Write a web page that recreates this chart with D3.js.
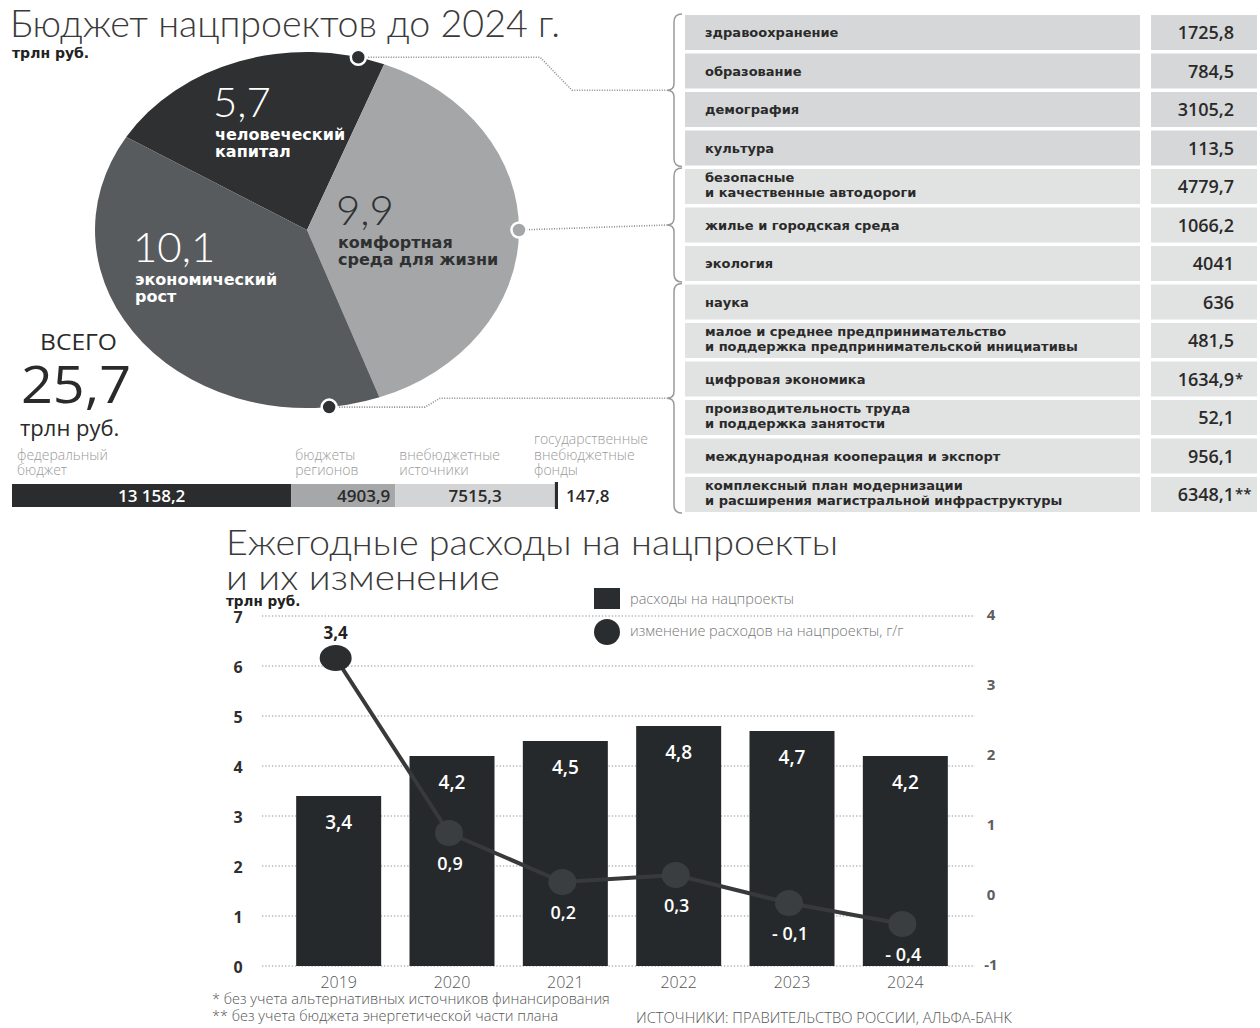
<!DOCTYPE html>
<html>
<head>
<meta charset="utf-8">
<script src="https://cdn.jsdelivr.net/npm/d3@7"></script>
<style>
  body { margin: 0; background: #fff; }
  text { font-family: "Open Sans", "DejaVu Sans", sans-serif; }
  .light { font-family: Lato, "Open Sans", sans-serif; font-weight: 300; }
  .heavy { font-family: "DejaVu Sans", sans-serif; font-weight: bold; }
</style>
</head>
<body>
<div id="container"></div>
<script>
const width = 1260,
  height = 1028;

// pie: groups of national projects, trln rub
const pieNames = [["человеческий", "капитал"], ["комфортная", "среда для жизни"], ["экономический", "рост"]];
const pieValues = [5.7, 9.9, 10.1];
const pieColors = ["#2e3032", "#a5a6a7", "#585b5d"];

// table: projects, bln rub
const tableLabels = [
  ["здравоохранение"], ["образование"], ["демография"], ["культура"],
  ["безопасные", "и качественные автодороги"], ["жилье и городская среда"], ["экология"],
  ["наука"], ["малое и среднее предпринимательство", "и поддержка предпринимательской инициативы"],
  ["цифровая экономика"], ["производительность труда", "и поддержка занятости"],
  ["международная кооперация и экспорт"],
  ["комплексный план модернизации", "и расширения магистральной инфраструктуры"]
];
const tableValues = [1725.8, 784.5, 3105.2, 113.5, 4779.7, 1066.2, 4041, 636, 481.5, 1634.9, 52.1, 956.1, 6348.1];
const tableNotes = ["", "", "", "", "", "", "", "", "", "*", "", "", "**"];
const tableGroup = [0, 0, 0, 0, 1, 1, 1, 2, 2, 2, 2, 2, 2];

// sources of financing, bln rub
const sourceNames = [["федеральный", "бюджет"], ["бюджеты", "регионов"], ["внебюджетные", "источники"], ["государственные", "внебюджетные", "фонды"]];
const sourceValues = [13158.2, 4903.9, 7515.3, 147.8];

// yearly spending
const years = ["2019", "2020", "2021", "2022", "2023", "2024"];
const spending = [3.4, 4.2, 4.5, 4.8, 4.7, 4.2];
const change = [3.4, 0.9, 0.2, 0.3, -0.1, -0.4];
const leftTicks = [0, 1, 2, 3, 4, 5, 6, 7];
const rightTicks = [-1, 0, 1, 2, 3, 4];

const ru = d3.formatLocale({ decimal: ",", thousands: " ", grouping: [3], minus: "-" });
const fmt = v => {
  if (Number.isInteger(v)) return String(v);
  return Math.abs(v) >= 10000 ? ru.format(",.1f")(v) : ru.format(".1f")(v);
};
const fmtChange = v => v < 0 ? "- " + ru.format(".1f")(-v) : ru.format(".1f")(v);

const svg = d3.select("#container")
  .append("svg")
  .attr("width", width)
  .attr("height", height);

/* ---------- TOP: PIE ---------- */
svg.append("text")
  .attr("class", "light")
  .attr("x", 10).attr("y", 37)
  .attr("font-size", 37)
  .attr("fill", "#3a3a3a")
  .attr("textLength", 550).attr("lengthAdjust", "spacingAndGlyphs")
  .text("Бюджет нацпроектов до 2024 г.");

svg.append("text")
  .attr("class", "heavy")
  .attr("x", 12).attr("y", 58)
  .attr("font-size", 14)
  .attr("fill", "#222")
  .text("трлн руб.");

const cx = 307, cy = 230, R = 212, squash = 0.84;
const pie = d3.pie().sort(null)
  .startAngle(-58.5 * Math.PI / 180)
  .endAngle(301.5 * Math.PI / 180);
const arc = d3.arc().innerRadius(0).outerRadius(R);
const arcs = pie(pieValues);

svg.append("g")
  .attr("transform", `translate(${cx},${cy}) scale(1,${squash})`)
  .selectAll("path")
  .data(arcs)
  .join("path")
  .attr("d", arc)
  .attr("fill", (d, i) => pieColors[i]);

// labels inside slices
const pieLabelPos = [[215, 117], [338, 225], [135, 262]];
const pieTextColor = ["#fff", "#2e3032", "#fff"];
pieValues.forEach((v, i) => {
  const [x, y] = pieLabelPos[i];
  svg.append("text")
    .attr("class", "light")
    .attr("x", x - 2).attr("y", y)
    .attr("font-size", 42)
    .attr("fill", pieTextColor[i])
    .text(fmt(v));
  pieNames[i].forEach((line, j) => {
    svg.append("text")
      .attr("class", "heavy")
      .attr("x", x).attr("y", y + 23 + j * 17)
      .attr("font-size", 16)
      .attr("fill", pieTextColor[i])
      .text(line);
  });
});

// total
svg.append("text").attr("x", 40).attr("y", 350)
  .attr("font-size", 21).attr("fill", "#2a2a2a")
  .attr("textLength", 77).attr("lengthAdjust", "spacingAndGlyphs")
  .text("ВСЕГО");
svg.append("text").attr("x", 21).attr("y", 403)
  .attr("font-size", 51).attr("font-weight", 500).attr("fill", "#2a2a2a")
  .attr("textLength", 110).attr("lengthAdjust", "spacingAndGlyphs")
  .text(fmt(d3.sum(pieValues)));
svg.append("text").attr("x", 20).attr("y", 436)
  .attr("font-size", 22).attr("font-weight", 500).attr("fill", "#2a2a2a")
  .text("трлн руб.");

/* ---------- TOP: TABLE ---------- */
const rowY = i => 15 + i * 38.5;
const rowH = 35;
const groupFill = ["#d6d7d8", "#e1e2e2", "#e1e2e2"];

const rows = svg.append("g").selectAll("g")
  .data(tableValues)
  .join("g")
  .attr("transform", (d, i) => `translate(0,${rowY(i)})`);

rows.append("rect")
  .attr("x", 685).attr("width", 455).attr("height", rowH)
  .attr("fill", (d, i) => groupFill[tableGroup[i]]);
rows.append("rect")
  .attr("x", 1151).attr("width", 106).attr("height", rowH)
  .attr("fill", (d, i) => groupFill[tableGroup[i]]);

rows.each(function (d, i) {
  const g = d3.select(this);
  const lines = tableLabels[i];
  lines.forEach((line, j) => {
    g.append("text")
      .attr("class", "heavy")
      .attr("x", 705)
      .attr("y", lines.length === 1 ? 22 : 13 + j * 15)
      .attr("font-size", 13)
      .attr("fill", "#2a2a2a")
      .text(line);
  });
  g.append("text")
    .attr("x", 1234).attr("y", 24)
    .attr("text-anchor", "end")
    .attr("font-size", 18).attr("font-weight", 600)
    .attr("fill", "#2a2a2a")
    .text(fmt(d));
  if (tableNotes[i]) {
    g.append("text")
      .attr("x", 1235).attr("y", 22)
      .attr("font-size", 15).attr("font-weight", 600)
      .attr("fill", "#2a2a2a")
      .text(tableNotes[i]);
  }
});

// braces per group
const groups = d3.groups(tableGroup.map((g, i) => ({ g, i })), d => d.g).map(([g, items]) => {
  const top = rowY(items[0].i) - 1;
  const bottom = rowY(items[items.length - 1].i) + rowH + 1;
  return { top, bottom, mid: (top + bottom) / 2 };
});
const braceX = 682;
svg.append("g").selectAll("path")
  .data(groups)
  .join("path")
  .attr("fill", "none")
  .attr("stroke", "#9a9a9a")
  .attr("stroke-width", 1.5)
  .attr("d", b => `M${braceX},${b.top} Q${braceX - 8},${b.top} ${braceX - 8},${b.top + 8}
    L${braceX - 8},${b.mid - 7} Q${braceX - 8},${b.mid} ${braceX - 15},${b.mid}
    Q${braceX - 8},${b.mid} ${braceX - 8},${b.mid + 7}
    L${braceX - 8},${b.bottom - 8} Q${braceX - 8},${b.bottom} ${braceX},${b.bottom}`);

// connectors from the pie
const dotAngles = [14, 90, 174];
const dotFill = ["#2e3032", "#a5a6a7", "#2e3032"];
const dots = dotAngles.map(a => {
  const r = a * Math.PI / 180;
  return [cx + R * Math.sin(r), cy - R * Math.cos(r) * squash];
});
const tipX = braceX - 15;
const connectors = [
  [dots[0], [540, dots[0][1]], [572, groups[0].mid], [tipX, groups[0].mid]],
  [dots[1], [tipX, groups[1].mid]],
  [dots[2], [425, dots[2][1]], [440, groups[2].mid], [tipX, groups[2].mid]]
];
svg.append("g").selectAll("path")
  .data(connectors)
  .join("path")
  .attr("fill", "none")
  .attr("stroke", "#8a8a8a")
  .attr("stroke-width", 1.6)
  .attr("stroke-dasharray", "1,1.5")
  .attr("d", d3.line());
svg.append("g").selectAll("circle")
  .data(dots)
  .join("circle")
  .attr("cx", d => d[0]).attr("cy", d => d[1])
  .attr("r", 7.5)
  .attr("fill", (d, i) => dotFill[i])
  .attr("stroke", "#fff").attr("stroke-width", 2.5);

/* ---------- TOP: SOURCES BAR ---------- */
const sxScale = d3.scaleLinear()
  .domain([0, d3.sum(sourceValues)])
  .range([12, 558]);
const starts = d3.cumsum([0, ...sourceValues]);
const sourceFill = ["#2a2c2e", "#a6a7a8", "#d3d4d5", "#2a2c2e"];

svg.append("g").selectAll("rect")
  .data(sourceValues)
  .join("rect")
  .attr("x", (d, i) => sxScale(starts[i]))
  .attr("width", d => Math.max(2, sxScale(d) - sxScale(0)))
  .attr("y", (d, i) => i === 3 ? 482 : 484)
  .attr("height", (d, i) => i === 3 ? 27 : 23)
  .attr("fill", (d, i) => sourceFill[i]);

const sourceTitleX = [17, sxScale(starts[1]) + 4, sxScale(starts[2]) + 4, 534];
sourceNames.forEach((lines, i) => {
  lines.forEach((line, j) => {
    svg.append("text")
      .attr("x", sourceTitleX[i])
      .attr("y", 475 - (lines.length - 1 - j) * 15.5)
      .attr("font-family", "Roboto, sans-serif")
      .attr("font-weight", 300)
      .attr("font-size", 14)
      .attr("fill", "#9a9a9a")
      .text(line);
  });
});

svg.append("g").selectAll("text")
  .data(sourceValues)
  .join("text")
  .attr("x", (d, i) => {
    const a = sxScale(starts[i]), b = sxScale(starts[i + 1]);
    if (i === 1) return b - 5;
    if (i === 3) return b + 8;
    return (a + b) / 2;
  })
  .attr("y", 502)
  .attr("text-anchor", (d, i) => i === 1 ? "end" : i === 3 ? "start" : "middle")
  .attr("font-size", 17).attr("font-weight", 600)
  .attr("fill", (d, i) => i === 0 ? "#fff" : "#2a2a2a")
  .text(d => fmt(d));

/* ---------- BOTTOM: YEARLY CHART ---------- */
svg.append("text")
  .attr("class", "light")
  .attr("x", 226).attr("y", 555)
  .attr("font-size", 35).attr("fill", "#3a3a3a")
  .attr("textLength", 612).attr("lengthAdjust", "spacingAndGlyphs")
  .text("Ежегодные расходы на нацпроекты");
svg.append("text")
  .attr("class", "light")
  .attr("x", 226).attr("y", 590)
  .attr("font-size", 35).attr("fill", "#3a3a3a")
  .attr("textLength", 274).attr("lengthAdjust", "spacingAndGlyphs")
  .text("и их изменение");
svg.append("text")
  .attr("class", "heavy")
  .attr("x", 226).attr("y", 606)
  .attr("font-size", 13.5).attr("fill", "#222")
  .text("трлн руб.");

const xScale = d3.scaleBand()
  .domain(years)
  .range([282, 962])
  .paddingInner(0.25)
  .paddingOuter(0.125);
const yScale = d3.scaleLinear().domain([0, 7]).range([966, 616]);
const y2Scale = d3.scaleLinear().domain([-1, 4]).range([966, 616]);

// gridlines
svg.append("g").selectAll("line")
  .data(leftTicks)
  .join("line")
  .attr("x1", 262).attr("x2", 975)
  .attr("y1", d => yScale(d)).attr("y2", d => yScale(d))
  .attr("stroke", "#b5b5b5")
  .attr("stroke-width", 1.3)
  .attr("stroke-dasharray", "1.3,2");

// left axis
const yAxis = d3.axisLeft(yScale).tickValues(leftTicks).tickFormat(d => String(d)).tickSize(0).tickPadding(0);
svg.append("g")
  .attr("transform", "translate(245,0)")
  .call(yAxis)
  .call(g => g.select(".domain").remove())
  .selectAll("text")
  .attr("font-family", "'Open Sans', sans-serif")
  .attr("font-size", 16).attr("font-weight", 700)
  .attr("fill", "#2f2f2f")
  .attr("text-anchor", "middle")
  .attr("x", -7)
  .attr("dy", "0.4em");

// right axis
const y2Axis = d3.axisRight(y2Scale).tickValues(rightTicks).tickFormat(d => String(d)).tickSize(0).tickPadding(0);
svg.append("g")
  .attr("transform", "translate(991,0)")
  .call(y2Axis)
  .call(g => g.select(".domain").remove())
  .selectAll("text")
  .attr("font-family", "'Open Sans', sans-serif")
  .attr("font-size", 15).attr("font-weight", 700)
  .attr("fill", "#5e5e5e")
  .attr("text-anchor", "middle")
  .attr("x", 0)
  .attr("dy", "0.2em");

// bars
svg.append("g").selectAll("rect")
  .data(spending)
  .join("rect")
  .attr("x", (d, i) => xScale(years[i]))
  .attr("width", xScale.bandwidth())
  .attr("y", d => yScale(d))
  .attr("height", d => yScale(0) - yScale(d))
  .attr("fill", "#26292b");

svg.append("g").selectAll("text")
  .data(spending)
  .join("text")
  .attr("x", (d, i) => xScale(years[i]) + xScale.bandwidth() / 2)
  .attr("y", d => yScale(d) + 33)
  .attr("text-anchor", "middle")
  .attr("font-size", 19).attr("font-weight", 600)
  .attr("fill", "#fff")
  .text(d => fmt(d));

// x labels
svg.append("g").selectAll("text")
  .data(years)
  .join("text")
  .attr("x", d => xScale(d) + xScale.bandwidth() / 2)
  .attr("y", 988)
  .attr("text-anchor", "middle")
  .attr("font-family", "Roboto, sans-serif")
  .attr("font-weight", 300)
  .attr("font-size", 16)
  .attr("fill", "#555")
  .text(d => d);

// change line
const pts = change.map((v, i) => [xScale(years[i]) + xScale.bandwidth() / 2 - 3, y2Scale(v)]);
svg.append("path")
  .datum(pts)
  .attr("fill", "none")
  .attr("stroke", "#37393b")
  .attr("stroke-width", 4)
  .attr("d", d3.line());

svg.append("g").selectAll("ellipse")
  .data(pts)
  .join("ellipse")
  .attr("cx", d => d[0]).attr("cy", d => d[1])
  .attr("rx", (d, i) => i === 0 ? 16 : 14)
  .attr("ry", 13)
  .attr("fill", (d, i) => i === 0 ? "#2b2d2f" : "#3b3e40");

svg.append("g").selectAll("text")
  .data(change)
  .join("text")
  .attr("x", (d, i) => pts[i][0] + (i === 0 ? 0 : 1))
  .attr("y", (d, i) => i === 0 ? pts[i][1] - 19 : pts[i][1] + 37)
  .attr("text-anchor", "middle")
  .attr("font-size", (d, i) => i === 0 ? 17 : 18)
  .attr("font-weight", (d, i) => i === 0 ? 700 : 600)
  .attr("fill", (d, i) => i === 0 ? "#222" : "#fff")
  .text(d => fmtChange(d));

// legend
const legend = svg.append("g");
legend.append("rect")
  .attr("x", 594).attr("y", 588).attr("width", 26).attr("height", 21)
  .attr("fill", "#2a2d2f");
legend.append("circle")
  .attr("cx", 607).attr("cy", 632).attr("r", 13)
  .attr("fill", "#2a2d2f");
legend.selectAll("text")
  .data(["расходы на нацпроекты", "изменение расходов на нацпроекты, г/г"])
  .join("text")
  .attr("x", 630)
  .attr("y", (d, i) => 604 + i * 32)
  .attr("font-family", "Roboto, sans-serif")
  .attr("font-weight", 300)
  .attr("font-size", 14.5)
  .attr("fill", "#777")
  .text(d => d);

// footnotes
const notes = svg.append("g")
  .attr("font-family", "Roboto, sans-serif")
  .attr("font-weight", 300)
  .attr("fill", "#555");
notes.append("text").attr("x", 212).attr("y", 1004).attr("font-size", 14.5)
  .text("* без учета альтернативных источников финансирования");
notes.append("text").attr("x", 212).attr("y", 1021).attr("font-size", 14.5)
  .text("** без учета бюджета энергетической части плана");
notes.append("text").attr("x", 636).attr("y", 1023).attr("font-size", 14.5)
  .attr("textLength", 376).attr("lengthAdjust", "spacingAndGlyphs")
  .text("ИСТОЧНИКИ: ПРАВИТЕЛЬСТВО РОССИИ, АЛЬФА-БАНК");
</script>
</body>
</html>
